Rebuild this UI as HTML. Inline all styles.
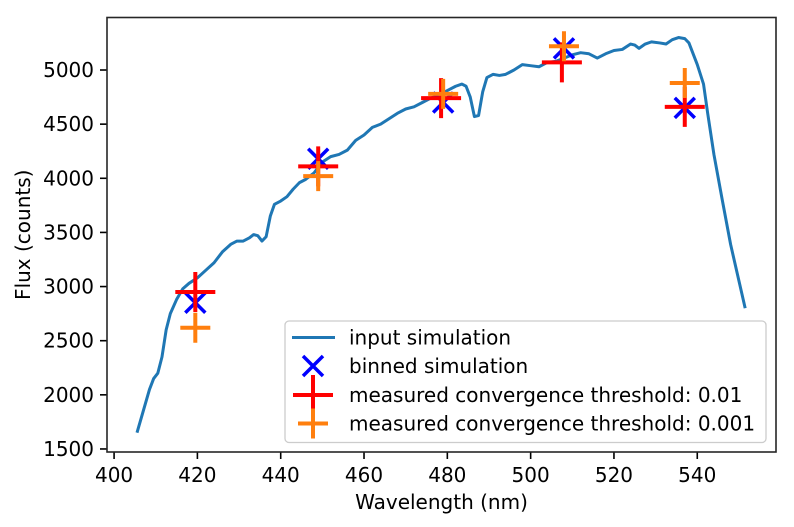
<!DOCTYPE html>
<html><head><meta charset="utf-8"><style>
html,body{margin:0;padding:0;background:#fff;}
svg{display:block;font-family:"DejaVu Sans","Liberation Sans",sans-serif;}
</style></head><body>
<svg id="chart" width="794" height="527" viewBox="0 0 794 527"></svg>
<script>
const lineX=[405.5,407,408.5,409.5,410.5,411.5,412.5,413.5,415,416.5,418,420,422,424,426,428,429.5,431,432.5,433.5,434.5,435.5,436.5,437.5,438.5,440,441.5,443,444.5,446,448,450,452,454,456,458,460,462,464,466,468,470,472,474,476,478,480,482,483.5,484.5,485.5,486.5,487.5,488.5,489.5,491,492.5,494,496,498,500,502,504,506,508,510,512,514,516,518,520,522,524,525,526,527.5,529,531,532.5,534,535.5,537,538,540,541.5,542.5,544,546,548,551.5];
const lineY=[1650,1850,2050,2150,2200,2350,2600,2750,2880,2980,3030,3080,3150,3220,3320,3390,3420,3420,3450,3480,3470,3420,3460,3650,3760,3790,3830,3900,3960,3990,4050,4150,4200,4220,4260,4350,4400,4470,4500,4550,4600,4640,4660,4700,4740,4770,4810,4850,4870,4850,4750,4570,4580,4800,4930,4960,4950,4960,5000,5050,5040,5030,5070,5080,5110,5140,5160,5150,5110,5150,5180,5190,5240,5230,5200,5240,5260,5250,5240,5280,5300,5290,5250,5050,4870,4600,4220,3800,3390,2800];
const binX=[419.5,449,479,508,537];
const binY=[2850,4180,4700,5200,4650];
const m01X=[419.5,449,478.5,507.5,537];
const m01Y=[2950,4110,4740,5070,4660];
const m001X=[419.5,449,479,508,537];
const m001Y=[2620,4020,4780,5220,4880];
const xTicks=[400,420,440,460,480,500,520,540];
const yTicks=[1500,2000,2500,3000,3500,4000,4500,5000];

const L=107,R=776,T=17.5,B=452;
const xMin=398.3,xMax=558.9,yMin=1472,yMax=5485;
const FS=20;
const sx=v=>L+(v-xMin)/(xMax-xMin)*(R-L);
const sy=v=>B-(v-yMin)/(yMax-yMin)*(B-T);
const svg=document.getElementById('chart');
const NS='http://www.w3.org/2000/svg';
function mk(tag,attrs,parent){const e=document.createElementNS(NS,tag);for(const k in attrs)e.setAttribute(k,attrs[k]);(parent||svg).appendChild(e);return e;}

xTicks.forEach(t=>{
  const g=mk('g',{});
  
  
  mk('line',{x1:sx(t),x2:sx(t),y1:B,y2:B+7,stroke:'#000','stroke-width':1.6},g);
  const tx=mk('text',{x:sx(t),y:482,'text-anchor':'middle','font-size':FS,fill:'#000'},g);tx.textContent=t;
});
yTicks.forEach(t=>{
  const g=mk('g',{});
  
  
  mk('line',{x1:L-7,x2:L,y1:sy(t),y2:sy(t),stroke:'#000','stroke-width':1.6},g);
  const tx=mk('text',{x:94,y:sy(t)+7,'text-anchor':'end','font-size':FS,fill:'#000'},g);tx.textContent=t;
});

const clip=mk('clipPath',{id:'pc'});mk('rect',{x:L,y:T,width:R-L,height:B-T},clip);
const pl=mk('polyline',{points:lineX.map((x,i)=>sx(x)+','+sy(lineY[i])).join(' '),fill:'none',stroke:'#1f77b4','stroke-width':3,'stroke-linejoin':'round','clip-path':'url(#pc)'});



function xMark(cx,cy,s,g){mk('path',{d:`M${cx-s},${cy-s}L${cx+s},${cy+s}M${cx-s},${cy+s}L${cx+s},${cy-s}`,stroke:'#0000ff','stroke-width':3.5,fill:'none'},g);}
function plus(cx,cy,s,c,g){mk('path',{d:`M${cx-s},${cy}L${cx+s},${cy}M${cx},${cy-s}L${cx},${cy+s}`,stroke:c,'stroke-width':4,fill:'none'},g);}

binX.forEach((x,i)=>{const g=mk('g',{});
  
  
  xMark(sx(x),sy(binY[i]),10,g);});
m01X.forEach((x,i)=>{const g=mk('g',{});
  
  
  plus(sx(x),sy(m01Y[i]),20,'#ff0000',g);});
m001X.forEach((x,i)=>{const g=mk('g',{});
  
  
  plus(sx(x),sy(m001Y[i]),15,'#ff7f0e',g);});

const fr=mk('rect',{x:L,y:T,width:R-L,height:B-T,fill:'none',stroke:'#262626','stroke-width':1.6});



const xl=mk('text',{x:(L+R)/2,y:509,'text-anchor':'middle','font-size':FS,fill:'#000'});xl.textContent='Wavelength (nm)';


const yl=mk('text',{x:0,y:0,transform:`translate(30,${(T+B)/2}) rotate(-90)`,'text-anchor':'middle','font-size':FS,fill:'#000'});yl.textContent='Flux (counts)';



const lg=mk('g',{});


mk('rect',{x:285,y:321,width:481,height:121.5,rx:4,fill:'#fff','fill-opacity':0.8,stroke:'#cccccc','stroke-width':1.3},lg);
const rows=[337.5,366,395,423.5];
const names=['input simulation','binned simulation','measured convergence threshold: 0.01','measured convergence threshold: 0.001'];
rows.forEach((ry,i)=>{
  const g=mk('g',{},lg);
  
  
  if(i===0)mk('line',{x1:292,x2:335,y1:ry,y2:ry,stroke:'#1f77b4','stroke-width':3},g);
  if(i===1)xMark(313,ry,10,g);
  if(i===2)plus(313,ry,20,'#ff0000',g);
  if(i===3)plus(313,ry,15,'#ff7f0e',g);
  const t=mk('text',{x:349,y:ry+7,'font-size':FS,fill:'#000'},g);t.textContent=names[i];
});
</script>
</body></html>
